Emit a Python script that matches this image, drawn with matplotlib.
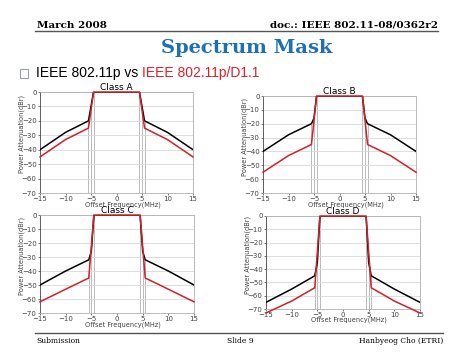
import matplotlib
matplotlib.use("Agg")
import matplotlib.pyplot as plt
from matplotlib.lines import Line2D
from matplotlib.patches import Rectangle

# offset frequency points (MHz)
freq = [-15, -10, -5.5, -5, -4.5, 4.5, 5, 5.5, 10, 15]

# IEEE 802.11p masks (black), half-side values from -15 to -4.5
p_a = [-40, -28, -20, -10, 0]
p_b = [-40, -28, -20, -16, 0]
p_c = [-50, -40, -32, -26, 0]
p_d = [-65, -55, -45, -35, 0]

# IEEE 802.11p/D1.1 masks (red)
d_a = [-45, -33, -25, -12.5, 0]
d_b = [-55, -43, -35, -17.5, 0]
d_c = [-62, -53, -45, -22.5, 0]
d_d = [-73, -64, -54, -27, 0]

classes = ["Class A", "Class B", "Class C", "Class D"]
yticks = [0, -10, -20, -30, -40, -50, -60, -70]
xticks = [-15, -10, -5, 0, 5, 10, 15]
edges = [-5.5, -5, -4.5, 4.5, 5, 5.5]


def mirror(half):
    return half + half[::-1]


W, H = 474, 355
fig = plt.figure(figsize=(W / 100, H / 100), dpi=100)

# header
fig.text(37 / W, 1 - 25 / H, "March 2008", family="DejaVu Serif", weight="bold",
         fontsize=7.5, va="center", ha="left")
fig.text(438 / W, 1 - 25 / H, "doc.: IEEE 802.11-08/0362r2", family="DejaVu Serif",
         weight="bold", fontsize=7.5, va="center", ha="right")
fig.add_artist(Line2D([35 / W, 438 / W], [1 - 31 / H, 1 - 31 / H], color="#555555", lw=1.0))
fig.text(247 / W, 1 - 48 / H, "Spectrum Mask", family="DejaVu Serif", weight="bold",
         fontsize=14, color="#1f6fb5", va="center", ha="center")

# bullet line
fig.add_artist(Rectangle((20 / W, 1 - 78 / H), 8 / W, 9 / H, fill=False, ec="#9aa3ad", lw=0.8))
t1 = fig.text(36 / W, 1 - 73 / H, "IEEE 802.11p vs ", fontsize=10, va="center", ha="left",
              family="Liberation Sans")
fig.canvas.draw()
bb = t1.get_window_extent()
fig.text(bb.x1 / W, 1 - 73 / H, "IEEE 802.11p/D1.1", fontsize=10, va="center", ha="left",
         family="Liberation Sans", color="#e0202a")

# footer
fig.add_artist(Line2D([35 / W, 443 / W], [1 - 333 / H, 1 - 333 / H], color="#555555", lw=1.0))
fig.text(36 / W, 1 - 341 / H, "Submission", family="DejaVu Serif", fontsize=5.5, va="center")
fig.text(240 / W, 1 - 341 / H, "Slide 9", family="DejaVu Serif", fontsize=5.5,
         va="center", ha="center")
fig.text(443 / W, 1 - 341 / H, "Hanbyeog Cho (ETRI)", family="DejaVu Serif", fontsize=5.5,
         va="center", ha="right")

# axes boxes in pixels: left, top, right, bottom
boxes = [(40, 92, 193, 193), (263, 96, 416, 193), (40, 215, 194, 313), (266, 216, 420, 309)]
blacks = [p_a, p_b, p_c, p_d]
reds = [d_a, d_b, d_c, d_d]

for name, box, pk, rd in zip(classes, boxes, blacks, reds):
    l, t, r, b = box
    ax = fig.add_axes([l / W, 1 - b / H, (r - l) / W, (b - t) / H])
    blk = mirror(pk)
    red = mirror(rd)
    # thin vertical guides at the band edges
    for x in edges:
        ax.plot([x, x], [-70, blk[freq.index(x)]], color="#b0b0b0", lw=0.6, zorder=1)
    ax.plot(freq, blk, color="black", lw=1.1, zorder=3)
    ax.plot(freq, red, color="#d0202a", lw=1.1, zorder=4, clip_on=False)
    ax.set_xlim(-15, 15)
    ax.set_ylim(-70, 0)
    ax.set_xticks(xticks)
    ax.set_yticks(yticks)
    ax.tick_params(labelsize=5, colors="#444444", length=1.5, width=0.5, pad=1)
    ax.grid(axis="y", color="#d8d8d8", lw=0.6)
    for s in ax.spines.values():
        s.set_color("#b0b0b0")
        s.set_linewidth(0.6)
    ax.spines["left"].set_color("#444444")
    ax.set_title(name, fontsize=6.5, pad=0.5)
    ax.text(0.54, -0.12, "Offset Frequency(MHz)", transform=ax.transAxes, fontsize=4.8,
            color="#444444", ha="center", va="center")
    ax.text(-0.12, 0.58, "Power Attenuation(dBr)", transform=ax.transAxes, fontsize=4.8,
            color="#444444", ha="center", va="center", rotation=90)

fig.savefig("out.png", dpi=100)
